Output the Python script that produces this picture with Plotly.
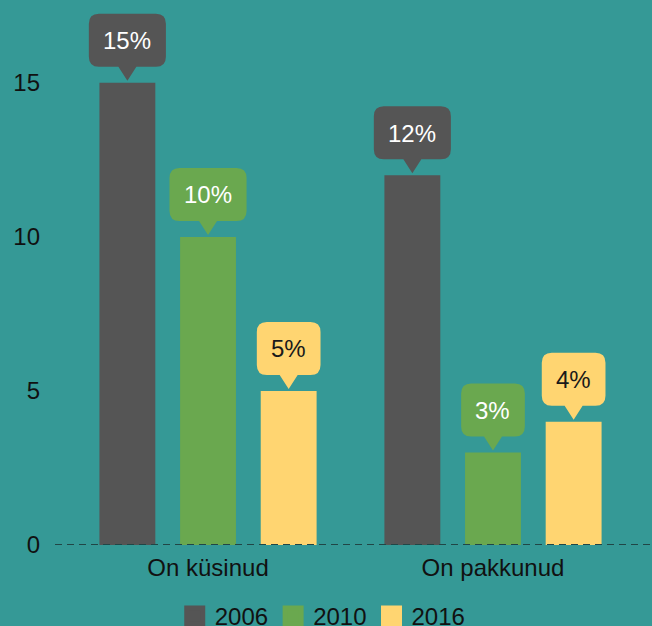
import plotly.graph_objects as go

categories = ["On küsinud", "On pakkunud"]
years = ["2006", "2010", "2016"]
values_2006 = [15, 12]
values_2010 = [10, 3]
values_2016 = [5, 4]

series = [values_2006, values_2010, values_2016]
colors = ["#555555", "#6aa84f", "#ffd571"]
text_colors = ["#ffffff", "#ffffff", "#1a1a1a"]
bg = "#359996"
font = "'Liberation Sans', Arial, sans-serif"

bargap = 0.151
slot = (1 - bargap) / len(years)


def callout_path(w, tip=2, tri_h=14, tri_w=9, box_h=53, r=10):
    # pixel path relative to the top of the bar (y up)
    b = tip + tri_h
    t = b + box_h
    h = w / 2
    return (f"M 0,{tip} L {tri_w},{b} L {h - r},{b} Q {h},{b} {h},{b + r} "
            f"L {h},{t - r} Q {h},{t} {h - r},{t} L {-h + r},{t} Q {-h},{t} {-h},{t - r} "
            f"L {-h},{b + r} Q {-h},{b} {-h + r},{b} L {-tri_w},{b} Z")


fig = go.Figure()
shapes = []
annotations = []
for j, (year, vals) in enumerate(zip(years, series)):
    fig.add_trace(go.Bar(
        x=categories, y=vals, name=year,
        marker=dict(color=colors[j], line=dict(width=0)),
        showlegend=False, hoverinfo="x+y"
    ))
    # legend entry with bigger square
    fig.add_trace(go.Scatter(
        x=[None], y=[None], mode="markers", name=year,
        marker=dict(symbol="square", size=16, color=colors[j],
                    line=dict(width=5, color=colors[j]))
    ))
    for i, v in enumerate(vals):
        xc = i + (j - 1) * slot
        label = f"{v}%"
        # box width follows the text width (24px Arial-like digits)
        w = 13.35 * (len(label) - 1) + 21.35 + 29
        shapes.append(dict(
            type="path", xref="x", yref="y",
            xsizemode="pixel", ysizemode="pixel",
            xanchor=xc, yanchor=v,
            path=callout_path(w),
            fillcolor=colors[j], line=dict(width=0), layer="above"
        ))
        annotations.append(dict(
            x=xc, y=v, xref="x", yref="y", text=label, showarrow=False,
            yshift=42, yanchor="middle",
            font=dict(size=24, color=text_colors[j], family=font)
        ))

shapes.append(dict(
    type="line", xref="paper", yref="y", x0=0, x1=1, y0=0, y1=0,
    line=dict(color="#214646", width=2, dash="7px,5px"), layer="above"
))

fig.update_layout(
    width=652, height=626,
    paper_bgcolor=bg, plot_bgcolor=bg,
    margin=dict(l=55, r=0, t=0, b=81),
    barmode="group", bargap=bargap, bargroupgap=0.307,
    font=dict(family=font, size=24, color="#111111"),
    shapes=shapes, annotations=annotations,
    xaxis=dict(
        type="category", range=[-0.537, 1.558],
        showgrid=False, zeroline=False, showline=False, ticks="",
        ticklabelstandoff=6,
        tickfont=dict(size=24, color="#111111")
    ),
    yaxis=dict(
        range=[0, 17.69], tickvals=[0, 5, 10, 15],
        showgrid=False, zeroline=False, showline=False,
        ticklabelstandoff=14,
        tickfont=dict(size=24, color="#111111")
    ),
    legend=dict(
        orientation="h", xref="container", yref="container",
        x=0.495, xanchor="center", y=1 - 594 / 626, yanchor="top",
        font=dict(size=24, color="#111111"),
        bgcolor="rgba(0,0,0,0)", itemwidth=30, tracegroupgap=0
    )
)

fig.write_html("out.html", config={"displayModeBar": False},
               post_script="document.body.style.margin='0';")
